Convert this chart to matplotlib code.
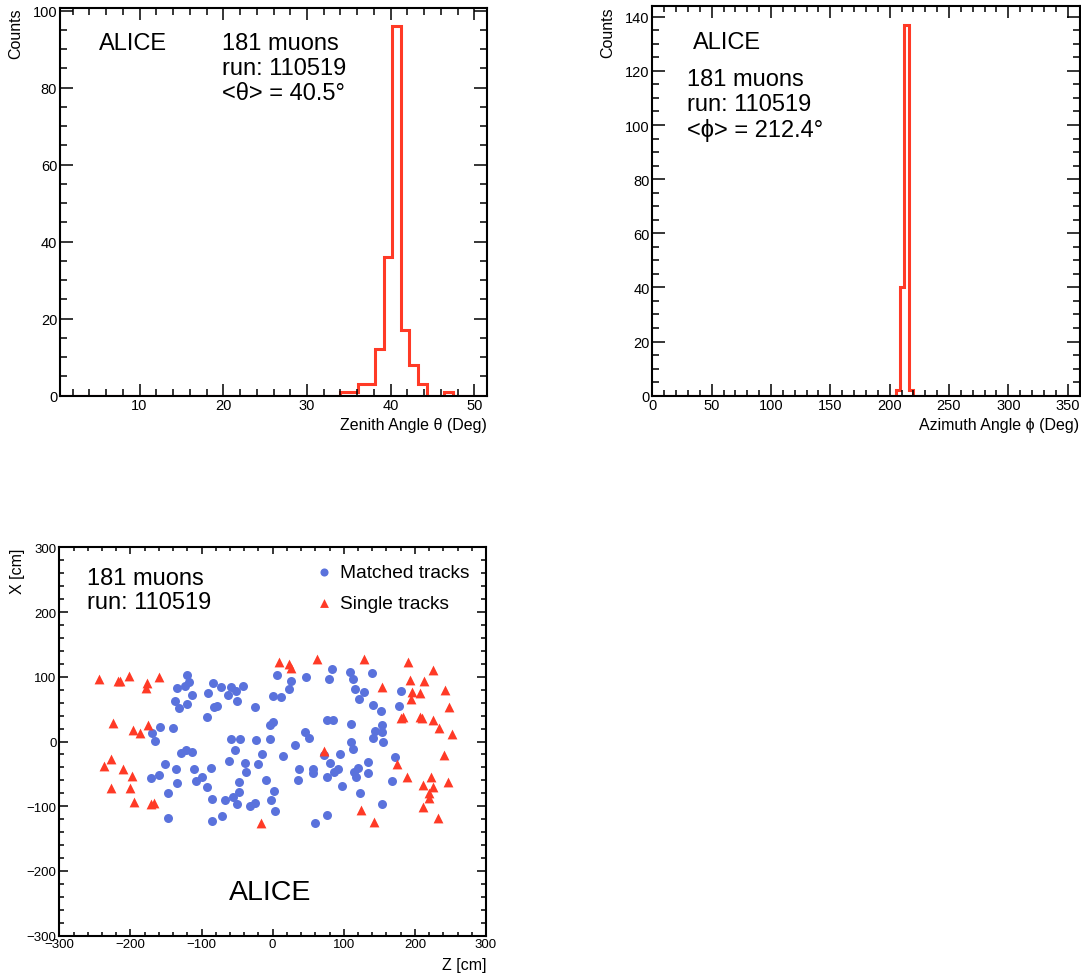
import numpy as np
import matplotlib
matplotlib.use("Agg")
import matplotlib.pyplot as plt
from matplotlib.ticker import MultipleLocator

plt.rcParams['font.family'] = ['Liberation Sans', 'DejaVu Sans']
plt.rcParams['mathtext.fontset'] = 'dejavusans'

# ---------------- data ----------------
theta_edges = np.linspace(0, 51.5, 51)
theta_counts = [0] * 33 + [1, 1, 3, 3, 12, 36, 96, 17, 8, 3, 0, 0, 1] + [0] * 4

phi_edges = np.linspace(0, 360, 101)
phi_counts = [0] * 57 + [2, 40, 137, 2] + [0] * 39

matched_z = [-170.1, -158.4, -165.9, -171.5, -159.2, -120.9, -117.9, -133.8, -123.2, -113.0,
             -137.8, -131.3, -120.5, -84.3, -72.7, -91.4, -78.7, -82.8, -92.8, -140.6,
             -62.8, -57.9, -51.5, -50.8, -41.7, -58.6, -52.9, -128.9, -121.2, -114.1,
             -61.0, -151.4, -135.7, -111.1, -86.0, -134.6, -107.1, -99.8, -92.8, -147.6,
             -85.7, -66.3, -55.3, -47.3, -50.6, -31.9, -24.6, -147.2, -85.7, -71.6,
             -24.5, 6.7, 25.8, 23.4, 46.9, 0.0, 11.2, -3.8, 0.4, -46.0,
             -23.4, -3.3, 45.0, 50.6, 31.6, -14.6, 14.1, -38.2, -20.4, -37.5,
             37.5, -47.4, -8.9, 35.9, 2.1, -2.6, 3.3, 83.0, 79.2, 108.7,
             113.3, 140.0, 115.3, 128.0, 121.4, 141.5, 152.3, 76.6, 85.2, 110.1,
             154.4, 143.4, 154.4, 141.5, 154.8, 110.1, 113.4, 94.7, 72.8, 81.0,
             57.2, 57.2, 91.4, 86.2, 77.1, 119.5, 114.3, 117.9, 134.5, 134.5,
             97.4, 123.2, 153.7, 76.8, 59.1, 180.1, 178.1, 171.5, 168.0]
matched_x = [12.7, 22.4, 1.2, -56.9, -51.4, 102.0, 91.9, 82.3, 85.0, 72.3,
             61.8, 51.3, 58.4, 90.4, 83.7, 74.5, 55.3, 53.3, 38.3, 20.1,
             71.8, 84.2, 78.0, 63.3, 85.7, 3.9, -12.8, -18.2, -13.1, -16.2,
             -29.8, -35.2, -42.8, -42.5, -41.2, -63.6, -61.3, -54.1, -70.8, -79.9,
             -88.4, -89.6, -85.7, -77.7, -96.6, -99.2, -94.5, -117.9, -122.4, -115.1,
             53.3, 103.2, 93.9, 81.7, 100.4, 70.8, 69.5, 25.5, 30.1, 3.1,
             2.3, 4.6, 14.2, 5.1, -5.1, -18.8, -22.9, -33.2, -35.2, -47.6,
             -42.5, -61.8, -59.9, -59.5, -77.2, -90.8, -106.9, 111.5, 96.9, 107.1,
             96.6, 105.8, 81.7, 76.9, 65.7, 56.4, 46.7, 33.7, 33.7, 26.7,
             25.8, 16.7, 14.7, 5.1, -1.2, -1.2, -11.6, -19.8, -20.1, -32.8,
             -42.5, -49.1, -42.5, -47.6, -54.5, -40.6, -47.6, -55.6, -30.9, -48.7,
             -69.5, -80.0, -97.3, -114.0, -125.4, 77.6, 55.6, -24.4, -60.6]

single_z = [-243.8, -217.9, -214.3, -201.6, -177.2, -178.6, -159.8, -224.1, -196.9, -186.6,
            -174.9, -227.4, -236.8, -210.1, -198.3, -226.9, -201.1, -194.6, -171.1, -166.9,
            9.3, 23.3, 25.8, 61.9, 128.8, -16.5, 153.3, 72.2, 124.2, 142.5,
            189.8, 225.9, 193.1, 213.2, 195.4, 207.2, 194.5, 242.3, 248.4, 180.4,
            182.8, 207.2, 210.4, 225.0, 234.3, 252.6, 240.9, 175.3, 188.4, 222.7,
            246.9, 211.8, 225.0, 220.2, 219.8, 210.9, 232.0]
single_x = [96.6, 93.0, 93.0, 101.7, 89.9, 82.7, 100.4, 28.1, 17.8, 13.1,
            26.0, -27.0, -37.4, -42.5, -53.8, -71.8, -72.3, -93.9, -96.5, -95.5,
            122.4, 119.7, 113.1, 126.7, 127.5, -125.9, 84.7, -15.1, -105.4, -124.8,
            122.4, 110.5, 95.0, 93.0, 76.0, 74.9, 65.7, 79.6, 52.8, 36.3,
            38.3, 38.3, 36.3, 33.2, 20.4, 11.6, -20.4, -34.8, -54.4, -55.3,
            -63.0, -67.2, -70.8, -80.0, -87.3, -101.7, -118.6]

RED = '#ff3a26'
BLUE = '#5a72dc'

W, H = 1081, 978
fig = plt.figure(figsize=(W / 100, H / 100), dpi=100)


def frac(l, t, r, b):
    return [l / W, (H - b) / H, (r - l) / W, (b - t) / H]


def style(ax, xmaj, xmin, ymaj, ymin, lx, ly, tick_fs):
    ax.xaxis.set_major_locator(MultipleLocator(xmaj))
    ax.xaxis.set_minor_locator(MultipleLocator(xmin))
    ax.yaxis.set_major_locator(MultipleLocator(ymaj))
    ax.yaxis.set_minor_locator(MultipleLocator(ymin))
    ax.tick_params(which='both', direction='in', top=True, right=True, width=1.1,
                   labelsize=tick_fs, pad=2)
    ax.tick_params(axis='x', which='major', length=lx[0])
    ax.tick_params(axis='x', which='minor', length=lx[1])
    ax.tick_params(axis='y', which='major', length=ly[0])
    ax.tick_params(axis='y', which='minor', length=ly[1])
    for s in ax.spines.values():
        s.set_linewidth(1.5)


BIG = 17

# ---------------- theta histogram ----------------
ax1 = fig.add_axes(frac(60, 8.5, 487, 396.7))
ax1.stairs(theta_counts, theta_edges, color=RED, lw=2.2)
ax1.set_xlim(0.5, 51.5)
ax1.set_ylim(0, 100.8)
style(ax1, 10, 2, 20, 5, (8.4, 4.8), (9.4, 5.0), 10.5)
ax1.set_ylabel('Counts', fontsize=11.5, loc='top')
ax1.yaxis.set_label_coords(-0.086, 1.0)
ax1.set_xlabel('Zenith Angle θ (Deg)', fontsize=11.5, loc='right')
ax1.xaxis.set_label_coords(1.0, -0.055)
ax1.text(0.091, 0.893, 'ALICE', transform=ax1.transAxes, fontsize=BIG, va='baseline')
ax1.text(0.379, 0.893, '181 muons', transform=ax1.transAxes, fontsize=BIG, va='baseline')
ax1.text(0.379, 0.829, 'run: 110519', transform=ax1.transAxes, fontsize=BIG, va='baseline')
ax1.text(0.379, 0.764, '<θ> = 40.5°', transform=ax1.transAxes, fontsize=BIG, va='baseline')

# ---------------- phi histogram ----------------
ax2 = fig.add_axes(frac(652.3, 7.3, 1079.5, 396.7))
ax2.stairs(phi_counts, phi_edges, color=RED, lw=2.2)
ax2.set_xlim(0, 360)
ax2.set_ylim(0, 143.85)
style(ax2, 50, 10, 20, 5, (8.4, 4.0), (9.4, 5.0), 10.5)
ax2.set_ylabel('Counts', fontsize=11.5, loc='top')
ax2.yaxis.set_label_coords(-0.086, 1.0)
ax2.set_xlabel('Azimuth Angle ϕ (Deg)', fontsize=11.5, loc='right')
ax2.xaxis.set_label_coords(1.0, -0.055)
ax2.text(0.096, 0.892, 'ALICE', transform=ax2.transAxes, fontsize=BIG, va='baseline')
ax2.text(0.082, 0.798, '181 muons', transform=ax2.transAxes, fontsize=BIG, va='baseline')
ax2.text(0.082, 0.734, 'run: 110519', transform=ax2.transAxes, fontsize=BIG, va='baseline')
ax2.text(0.082, 0.668, '<ϕ> = 212.4°', transform=ax2.transAxes, fontsize=BIG, va='baseline')

# ---------------- scatter ----------------
ax3 = fig.add_axes(frac(59.3, 548.3, 486, 936.7))
h1 = ax3.scatter(matched_z, matched_x, s=42, marker='o', color=BLUE, linewidths=0,
                 label='Matched tracks', zorder=3)
h2 = ax3.scatter(single_z, single_x, s=50, marker='^', color=RED, linewidths=0,
                 label='Single tracks', zorder=4)
ax3.set_xlim(-300, 300)
ax3.set_ylim(-300, 300)
style(ax3, 100, 20, 100, 20, (5.3, 2.6), (6.5, 3.4), 9.5)
ax3.set_ylabel('X [cm]', fontsize=11.5, loc='top')
ax3.yaxis.set_label_coords(-0.08, 1.0)
ax3.set_xlabel('Z [cm]', fontsize=11.5, loc='right')
ax3.xaxis.set_label_coords(1.0, -0.055)
ax3.text(0.066, 0.905, '181 muons', transform=ax3.transAxes, fontsize=BIG, va='baseline')
ax3.text(0.066, 0.845, 'run: 110519', transform=ax3.transAxes, fontsize=BIG, va='baseline')
ax3.text(0.398, 0.0945, 'ALICE', transform=ax3.transAxes, fontsize=20.5, va='baseline')
ax3.legend(handles=[h1, h2], loc='upper left', bbox_to_anchor=(0.597, 0.957),
           frameon=False, fontsize=13.8, handlelength=1.0, handletextpad=0.35,
           borderaxespad=0, borderpad=0, labelspacing=0.7, scatterpoints=1,
           markerscale=0.9)

fig.savefig('out.png', dpi=100)
